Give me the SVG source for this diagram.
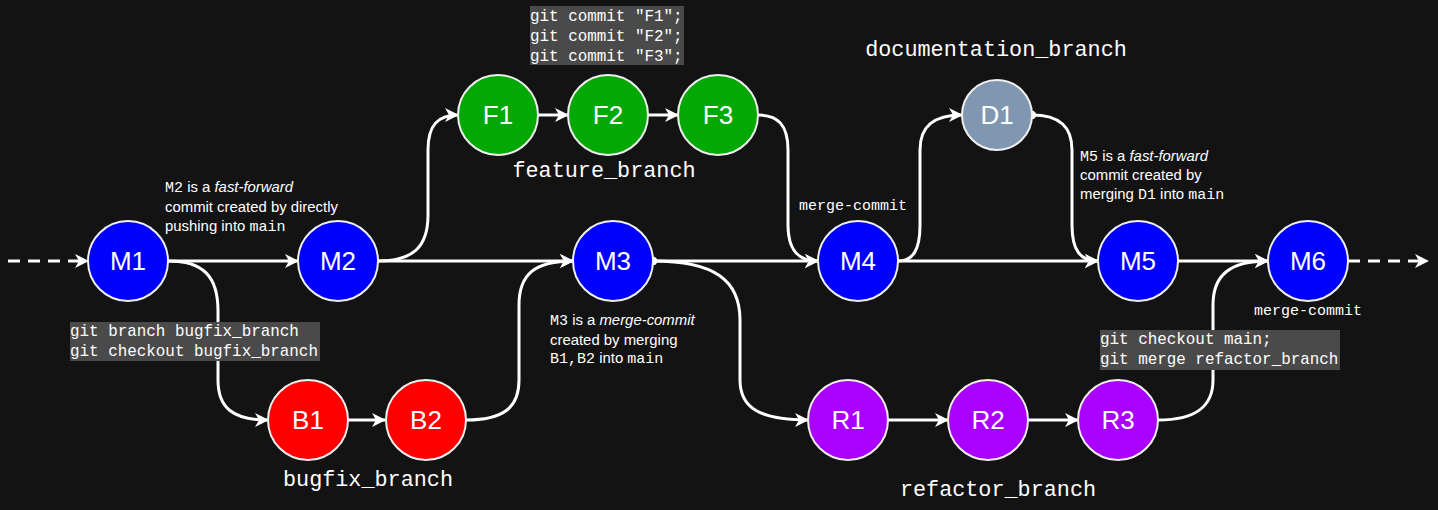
<svg xmlns="http://www.w3.org/2000/svg" width="1438" height="510" viewBox="0 0 1438 510">
<defs>
<marker id="arr" viewBox="0 0 14 14" refX="13" refY="7" markerWidth="14" markerHeight="14" markerUnits="userSpaceOnUse" orient="auto">
<path d="M0,0 L14,7 L0,14 L4,7 z" fill="#ffffff"/>
</marker>
<marker id="dot" viewBox="0 0 10 10" refX="5" refY="5" markerWidth="10" markerHeight="10" markerUnits="userSpaceOnUse" orient="auto">
<circle cx="5" cy="5" r="4.2" fill="#ffffff"/>
</marker>
<style>
.e{fill:none;stroke:#ffffff;stroke-width:3;marker-end:url(#arr)}
.d{stroke-dasharray:12 8}
.s{marker-start:url(#dot)}
.n{stroke:#f0f0f0;stroke-width:2}
.m{fill:#0000ff}.f{fill:#03a903}.b{fill:#ff0000}.r{fill:#aa00ff}.g{fill:#8097b1}
.lbl{font-family:"Liberation Sans",Arial,sans-serif;font-size:26px;fill:#ffffff;text-anchor:middle}
.mono{font-family:"Liberation Mono","Courier New",monospace;fill:#ffffff}
.br{font-size:21.8px;text-anchor:middle}
.cmd{font-size:15.9px}
.mc{font-size:15px;text-anchor:middle}
.ann{font-family:"Liberation Sans",Arial,sans-serif;font-size:14.9px;fill:#ffffff}
.am{font-family:"Liberation Mono","Courier New",monospace;font-size:15px}
.box{fill:#4a4a4a}
</style>
</defs>
<rect width="1438" height="510" fill="#131313"/>

<g id="connectors">
<path class="e d" d="M8,261 L88,261"/>
<path class="e" d="M168,261 L298,261"/>
<path class="e" d="M378,261 L573,261"/>
<path class="e s" d="M653,261 L818,261"/>
<path class="e" d="M898,261 L1098,261"/>
<path class="e" d="M1178,261 L1268,261"/>
<path class="e d" d="M1348,261 L1428,261"/>
<path class="e" d="M538,115 L568,115"/>
<path class="e" d="M648,115 L678,115"/>
<path class="e" d="M348,420 L385,420"/>
<path class="e" d="M888,420 L948,420"/>
<path class="e" d="M1028,420 L1078,420"/>
<path class="e" d="M168,261 C203,261 218,276 218,311 L218,380 C218,408 233,420 268,420"/>
<path class="e" d="M466,420 C503,420 519,408 519,380 L519,305 C519,274 535,261 573,261"/>
<path class="e" d="M378,261 C413,261 428,247 428,215 L428,150 C428,125 438,115 458,115"/>
<path class="e" d="M758,115 C778,115 788,125 788,150 L788,225 C788,250 798,261 818,261"/>
<path class="e s" d="M653,261 C714,261 740,280 740,320 L740,380 C740,408 760,420 808,420"/>
<path class="e" d="M898,261 C913,261 920,250 920,225 L920,150 C920,125 935,115 962,115"/>
<path class="e s" d="M1032,115 C1060,115 1072,127 1072,150 L1072,225 C1072,250 1080,261 1098,261"/>
<path class="e" d="M1158,420 C1198,420 1213,405 1213,380 L1213,305 C1213,275 1230,261 1268,261"/>
</g>

<g id="M1"><circle class="n m" cx="128" cy="261" r="40"/><text class="lbl" x="128" y="270">M1</text></g>
<g id="M2"><circle class="n m" cx="338" cy="261" r="40"/><text class="lbl" x="338" y="270">M2</text></g>
<g id="M3"><circle class="n m" cx="613" cy="261" r="40"/><text class="lbl" x="613" y="270">M3</text></g>
<g id="M4"><circle class="n m" cx="858" cy="261" r="40"/><text class="lbl" x="858" y="270">M4</text></g>
<g id="M5"><circle class="n m" cx="1138" cy="261" r="40"/><text class="lbl" x="1138" y="270">M5</text></g>
<g id="M6"><circle class="n m" cx="1308" cy="261" r="40"/><text class="lbl" x="1308" y="270">M6</text></g>
<g id="F1"><circle class="n f" cx="498" cy="115" r="40"/><text class="lbl" x="498" y="124">F1</text></g>
<g id="F2"><circle class="n f" cx="608" cy="115" r="40"/><text class="lbl" x="608" y="124">F2</text></g>
<g id="F3"><circle class="n f" cx="718" cy="115" r="40"/><text class="lbl" x="718" y="124">F3</text></g>
<g id="D1"><circle class="n g" cx="997" cy="115" r="35"/><text class="lbl" x="997" y="124">D1</text></g>
<g id="B1"><circle class="n b" cx="308" cy="420" r="40"/><text class="lbl" x="308" y="429">B1</text></g>
<g id="B2"><circle class="n b" cx="426" cy="420" r="40"/><text class="lbl" x="426" y="429">B2</text></g>
<g id="R1"><circle class="n r" cx="848" cy="420" r="40"/><text class="lbl" x="848" y="429">R1</text></g>
<g id="R2"><circle class="n r" cx="988" cy="420" r="40"/><text class="lbl" x="988" y="429">R2</text></g>
<g id="R3"><circle class="n r" cx="1118" cy="420" r="40"/><text class="lbl" x="1118" y="429">R3</text></g>

<g id="branch-labels">
<text class="mono br" x="604" y="177">feature_branch</text>
<text class="mono br" x="996" y="56">documentation_branch</text>
<text class="mono br" x="368" y="486">bugfix_branch</text>
<text class="mono br" x="998" y="496">refactor_branch</text>
<text class="mono mc" x="853" y="210">merge-commit</text>
<text class="mono mc" x="1308" y="315">merge-commit</text>
</g>

<g id="cmd-feature">
<rect class="box" x="530" y="6" width="154" height="59"/>
<text class="mono cmd" x="530" y="21">git commit "F1";</text>
<text class="mono cmd" x="530" y="41">git commit "F2";</text>
<text class="mono cmd" x="530" y="61">git commit "F3";</text>
</g>
<g id="cmd-bugfix">
<rect class="box" x="70" y="322" width="250" height="39"/>
<text class="mono cmd" x="70" y="336">git branch bugfix_branch</text>
<text class="mono cmd" x="70" y="356">git checkout bugfix_branch</text>
</g>
<g id="cmd-refactor">
<rect class="box" x="1100" y="330" width="240" height="40"/>
<text class="mono cmd" x="1100" y="344">git checkout main;</text>
<text class="mono cmd" x="1100" y="364">git merge refactor_branch</text>
</g>

<g id="ann-M2">
<text class="ann" x="165" y="192"><tspan class="am">M2</tspan> is a <tspan font-style="italic">fast-forward</tspan></text>
<text class="ann" x="165" y="212">commit created by directly</text>
<text class="ann" x="165" y="231">pushing into <tspan class="am">main</tspan></text>
</g>
<g id="ann-M3">
<text class="ann" x="550" y="325"><tspan class="am">M3</tspan> is a <tspan font-style="italic">merge-commit</tspan></text>
<text class="ann" x="550" y="345">created by merging</text>
<text class="ann" x="550" y="363"><tspan class="am">B1,B2</tspan> into <tspan class="am">main</tspan></text>
</g>
<g id="ann-M5">
<text class="ann" x="1080" y="161"><tspan class="am">M5</tspan> is a <tspan font-style="italic">fast-forward</tspan></text>
<text class="ann" x="1080" y="180">commit created by</text>
<text class="ann" x="1080" y="199">merging <tspan class="am">D1</tspan> into <tspan class="am">main</tspan></text>
</g>
</svg>
